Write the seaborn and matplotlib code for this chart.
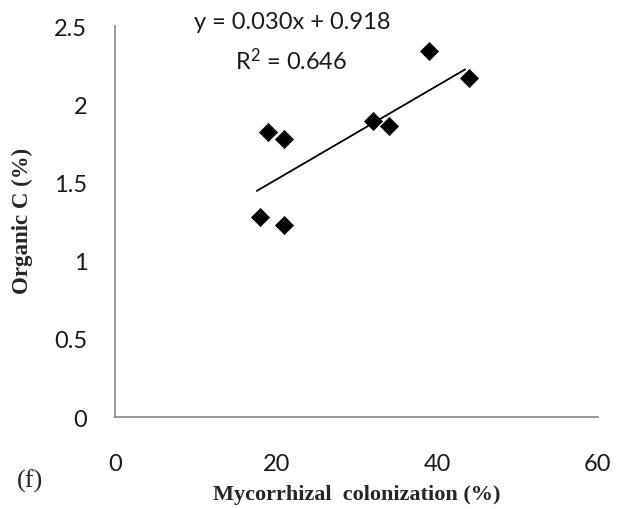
import numpy as np
import pandas as pd
import matplotlib
matplotlib.use('Agg')
import matplotlib.pyplot as plt
import seaborn as sns

# valores
colonizacion = [18, 21, 19, 21, 32, 34, 39, 44]
carbono = [1.28, 1.23, 1.82, 1.78, 1.89, 1.86, 2.34, 2.17]
pendiente = 0.030
intercepto = 0.918
r2 = 0.646
xticks = [0, 20, 40, 60]
yticks = [0, 0.5, 1, 1.5, 2, 2.5]

df = pd.DataFrame({'x': colonizacion, 'y': carbono})

sns.set_style('white')
plt.rcParams['font.family'] = ['Lato', 'DejaVu Sans']
plt.rcParams['mathtext.fontset'] = 'custom'
plt.rcParams['mathtext.rm'] = 'Lato'
plt.rcParams['mathtext.it'] = 'Lato'

fig = plt.figure(figsize=(6.19, 5.10), dpi=100)
ax = fig.add_axes([0.186, 0.180, 0.780, 0.767])

sns.scatterplot(data=df, x='x', y='y', marker='D', s=85, color='black',
                edgecolor='black', linewidth=0.5, ax=ax, zorder=3)

# linea de tendencia segun la ecuacion mostrada
xl = np.array([min(colonizacion) - 0.4, max(colonizacion) - 0.5])
ax.plot(xl, pendiente * xl + intercepto, color='black', lw=1.3, zorder=2)

ax.set_xlim(0, 60)
ax.set_ylim(0, 2.5)
ax.set_xticks(xticks)
ax.set_yticks(yticks)
ax.set_xticklabels([str(t) for t in xticks])
ax.set_yticklabels([f'{t:g}' for t in yticks])
ax.tick_params(axis='both', length=0, labelsize=17, colors='#1a1a1a')
ax.tick_params(axis='x', pad=26)
ax.tick_params(axis='y', pad=20)

for s in ['top', 'right']:
    ax.spines[s].set_visible(False)
for s in ['left', 'bottom']:
    ax.spines[s].set_color('#878787')
    ax.spines[s].set_linewidth(1.2)

ax.set_xlabel('Mycorrhizal  colonization (%)', fontsize=16, fontweight='bold',
              family='Liberation Serif')
ax.set_ylabel('Organic C (%)', fontsize=16.5, fontweight='bold',
              family='Liberation Serif')
ax.xaxis.set_label_coords(0.50, -0.17)
ax.yaxis.set_label_coords(-0.17, 0.505)

ax.text(0.366, 1.012, f'y = {pendiente:.3f}x + {intercepto:.3f}', transform=ax.transAxes,
        ha='center', va='center', fontsize=17, color='#1a1a1a')
ax.text(0.365, 0.915, r'R$^{\mathrm{2}}$' + f' = {r2:.3f}', transform=ax.transAxes,
        ha='center', va='center', fontsize=17, color='#1a1a1a')

fig.text(0.049, 0.057, '(f)', fontsize=19, family='Liberation Serif',
         ha='center', va='center')

fig.savefig('out.png', dpi=100)
